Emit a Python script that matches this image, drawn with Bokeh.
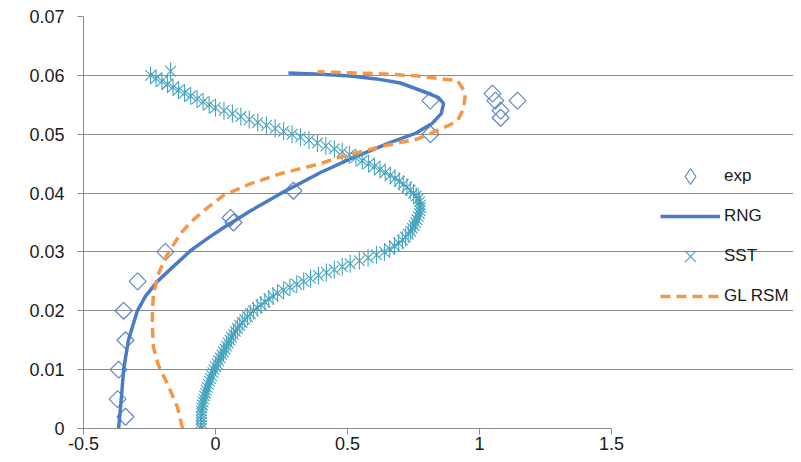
from math import pi
from bokeh.plotting import figure
from bokeh.models import Legend, LegendItem, FixedTicker, Range1d
from bokeh.embed import file_html
from bokeh.resources import INLINE

# ---- data ----
exp_x = [-0.341, -0.371, -0.367, -0.341, -0.348, -0.295, -0.19, 0.057, 0.068, 0.295,
         0.814, 0.814, 1.049, 1.06, 1.08, 1.08, 1.144]
exp_y = [0.002, 0.005, 0.010, 0.015, 0.020, 0.025, 0.030, 0.0358, 0.035, 0.0404,
         0.0557, 0.050, 0.0569, 0.0557, 0.054, 0.0528, 0.0557]

rng_x = [-0.367, -0.357, -0.348, -0.33, -0.296, -0.265, -0.22, -0.16, -0.095, -0.03, 0.03,
         0.133, 0.246, 0.398, 0.511, 0.663, 0.76, 0.82, 0.855, 0.864, 0.845, 0.803,
         0.70, 0.61, 0.511, 0.4, 0.276]
rng_y = [0.0, 0.005, 0.010, 0.015, 0.020, 0.0225, 0.025, 0.0275, 0.0302, 0.0323, 0.0341,
         0.037, 0.0399, 0.0435, 0.0458, 0.0486, 0.0502, 0.0518, 0.0535, 0.0552, 0.0562, 0.057,
         0.0587, 0.0594, 0.0599, 0.0602, 0.0604]

sst_y = [0.0000, 0.0005, 0.0010, 0.0015, 0.0020, 0.0025, 0.0030, 0.0035, 0.0040, 0.0045,
         0.0050, 0.0055, 0.0060, 0.0065, 0.0070, 0.0075, 0.0080, 0.0085, 0.0090, 0.0095,
         0.0100, 0.0105, 0.0110, 0.0115, 0.0120, 0.0125, 0.0130, 0.0135, 0.0140, 0.0145,
         0.0150, 0.0155, 0.0160, 0.0165, 0.0170, 0.0175, 0.0180, 0.0185, 0.0190, 0.0195,
         0.0200, 0.0205, 0.0210, 0.0215, 0.0220, 0.0225, 0.0230, 0.0235, 0.0240, 0.0245,
         0.0250, 0.0255, 0.0260, 0.0265, 0.0270, 0.0275, 0.0280, 0.0285, 0.0290, 0.0295,
         0.0300, 0.0305, 0.0310, 0.0315, 0.0320, 0.0325, 0.0330, 0.0335, 0.0340, 0.0345,
         0.0350, 0.0355, 0.0360, 0.0365, 0.0370, 0.0375, 0.0380, 0.0385, 0.0390, 0.0395,
         0.0400, 0.0405, 0.0410, 0.0415, 0.0420, 0.0425, 0.0430, 0.0435, 0.0440, 0.0445,
         0.0450, 0.0455, 0.0460, 0.0465, 0.0470, 0.0475, 0.0480, 0.0485, 0.0490, 0.0495,
         0.0500, 0.0505, 0.0510, 0.0515, 0.0520, 0.0525, 0.0530, 0.0535, 0.0540, 0.0545,
         0.0550, 0.0555, 0.0560, 0.0565, 0.0570, 0.0575, 0.0580, 0.0585, 0.0590, 0.0595,
         0.0600, 0.0607]
sst_x = [-0.054, -0.054, -0.054, -0.054, -0.054, -0.053, -0.053, -0.052, -0.050, -0.047,
         -0.044, -0.041, -0.038, -0.035, -0.031, -0.027, -0.023, -0.019, -0.015, -0.010,
         -0.006, 0.000, 0.006, 0.012, 0.018, 0.024, 0.030, 0.036, 0.042, 0.048,
         0.055, 0.061, 0.068, 0.075, 0.083, 0.092, 0.101, 0.111, 0.121, 0.132,
         0.144, 0.158, 0.172, 0.187, 0.202, 0.218, 0.235, 0.258, 0.282, 0.308,
         0.334, 0.360, 0.390, 0.420, 0.450, 0.480, 0.510, 0.545, 0.578, 0.610,
         0.640, 0.660, 0.678, 0.694, 0.708, 0.720, 0.730, 0.739, 0.746, 0.752,
         0.758, 0.763, 0.768, 0.772, 0.775, 0.777, 0.776, 0.773, 0.768, 0.760,
         0.750, 0.738, 0.725, 0.711, 0.696, 0.680, 0.662, 0.643, 0.623, 0.602,
         0.580, 0.556, 0.532, 0.507, 0.480, 0.450, 0.418, 0.386, 0.354, 0.322,
         0.290, 0.258, 0.226, 0.193, 0.160, 0.128, 0.096, 0.064, 0.032, 0.000,
         -0.024, -0.047, -0.070, -0.094, -0.117, -0.140, -0.161, -0.182, -0.203, -0.225,
         -0.246, -0.170]

gl_x = [-0.125, -0.144, -0.182, -0.216, -0.235, -0.239, -0.239, -0.235, -0.216, -0.19,
        -0.133, -0.09, -0.045, 0.030, 0.133, 0.246, 0.398, 0.447, 0.636, 0.765, 0.879,
        0.917, 0.939, 0.947, 0.917, 0.765, 0.614, 0.386]
gl_y = [0.0, 0.0036, 0.0076, 0.0107, 0.0138, 0.0171, 0.020, 0.0229, 0.0263, 0.029,
        0.0331, 0.0352, 0.037, 0.0396, 0.0416, 0.0433, 0.045, 0.0458, 0.048, 0.0492, 0.0514,
        0.0523, 0.0543, 0.057, 0.0591, 0.0599, 0.0603, 0.0606]

x_ticks = [-0.5, 0, 0.5, 1, 1.5]
x_tick_labels = ["-0.5", "0", "0.5", "1", "1.5"]
y_ticks = [0, 0.01, 0.02, 0.03, 0.04, 0.05, 0.06, 0.07]
y_tick_labels = ["0", "0.01", "0.02", "0.03", "0.04", "0.05", "0.06", "0.07"]

series_names = ["exp", "RNG", "SST", "GL RSM"]

# ---- layout / styling ----
FONT = "Liberation Sans"
C_EXP = "#5f86c4"
C_RNG = "#4a7cc6"
C_SST = "#45a3bd"
C_GL = "#f79646"
GRID = "#8c8c8c"
TXT = "#1a1a1a"

W, H = 793, 454
LEFT, TOP, BOTTOM = 83, 16, 26
PX_PER_UNIT = 264.0           # horizontal scale of the plotting area
x_end = -0.5 + (W - LEFT) / PX_PER_UNIT   # frame extends under the legend area

p = figure(width=W, height=H, x_range=Range1d(-0.5, x_end), y_range=Range1d(0, 0.07),
           output_backend="svg", toolbar_location=None,
           min_border_left=LEFT, min_border_right=0, min_border_top=TOP,
           min_border_bottom=BOTTOM)
p.outline_line_color = None
p.background_fill_color = "white"
p.border_fill_color = "white"
p.xgrid.visible = False
p.ygrid.grid_line_color = GRID
p.ygrid.grid_line_width = 1
p.ygrid.ticker = FixedTicker(ticks=y_ticks)
p.ygrid.bounds = (x_ticks[0], x_ticks[-1])

p.xaxis.ticker = FixedTicker(ticks=x_ticks)
p.yaxis.ticker = FixedTicker(ticks=y_ticks)
p.xaxis.bounds = (x_ticks[0], x_ticks[-1])
p.xaxis.major_label_overrides = {t: l for t, l in zip(x_ticks, x_tick_labels)}
p.yaxis.major_label_overrides = {t: l for t, l in zip(y_ticks, y_tick_labels)}
for ax in (p.xaxis, p.yaxis):
    ax.axis_line_color = GRID
    ax.major_tick_line_color = GRID
    ax.minor_tick_line_color = None
    ax.major_tick_in = 0
    ax.major_tick_out = 6
    ax.major_label_text_font = FONT
    ax.major_label_text_font_size = "18px"
    ax.major_label_text_color = TXT
p.xaxis.major_label_standoff = 2
p.yaxis.major_label_standoff = 13

r_exp = p.scatter(exp_x, exp_y, marker="square", size=12, angle=pi / 4,
                  fill_color=None, line_color=C_EXP, line_width=1.2)
# legend key for the diamonds (a single off-scale NaN entry, nothing is drawn)
r_exp_key = p.scatter(x=[float("nan")], y=[float("nan")], marker="diamond", size=16,
                      fill_color=None, line_color=C_EXP, line_width=1.2)
r_rng = p.line(rng_x, rng_y, line_color=C_RNG, line_width=3.5)
r_sst1 = p.scatter(sst_x, sst_y, marker="x", size=15, line_color=C_SST, line_width=1.1)
r_sst2 = p.scatter(sst_x, sst_y, marker="dash", size=18, angle=pi / 2,
                   line_color=C_SST, line_width=1.1)
r_gl = p.line(gl_x, gl_y, line_color=C_GL, line_width=3.5, line_dash="10 6")

legend = Legend(items=[
    LegendItem(label=series_names[0], renderers=[r_exp_key]),
    LegendItem(label=series_names[1], renderers=[r_rng]),
    LegendItem(label=series_names[2], renderers=[r_sst1]),
    LegendItem(label=series_names[3], renderers=[r_gl]),
], location=(577, 112))
legend.glyph_width = 60
legend.glyph_height = 40
legend.spacing = 0
legend.padding = 0
legend.margin = 0
legend.label_standoff = 4
legend.label_text_font = FONT
legend.label_text_font_size = "17px"
legend.label_text_color = TXT
legend.border_line_color = None
legend.background_fill_alpha = 0
p.add_layout(legend, "center")

open("out.html", "w").write(file_html(p, INLINE))
